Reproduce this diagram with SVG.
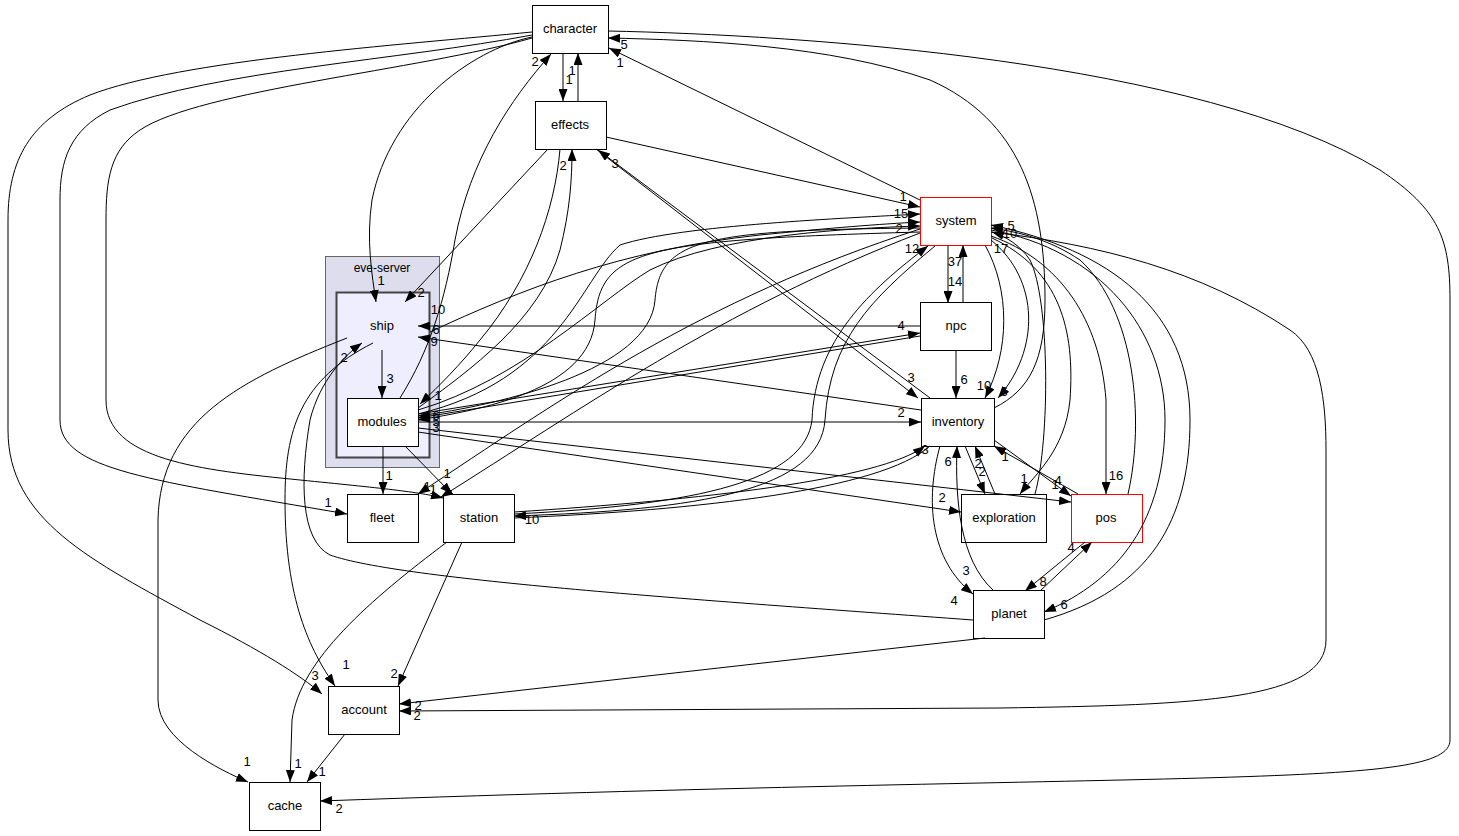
<svg xmlns="http://www.w3.org/2000/svg" width="1459" height="836" viewBox="0 0 1459 836">
<defs>
<marker id="a" viewBox="0 0 12 9" refX="12" refY="4.5" markerWidth="12" markerHeight="9" orient="auto" markerUnits="userSpaceOnUse"><path d="M0,0 L12,4.5 L0,9 z" fill="#000"/></marker>
<style>
.n{fill:#fff;stroke:#000;stroke-width:1}
.r{fill:#fff;stroke:#f00;stroke-width:1}
.t{font-family:"Liberation Sans",Arial,sans-serif;font-size:13px;text-anchor:middle;fill:#000}
.l{font-family:"Liberation Sans",Arial,sans-serif;font-size:13px;text-anchor:middle;fill:#000}
#edges path{fill:none;stroke:#000;stroke-width:1;marker-end:url(#a)}
#edges path.x{marker-end:none}
</style>
</defs>
<rect width="1459" height="836" fill="#fff"/>
<g id="eve-server"><rect x="325.5" y="256.5" width="114" height="211" fill="#ddddee" stroke="#666"/><text class="t" x="382" y="272" style="font-size:12px">eve-server</text></g>
<g id="ship"><rect x="336.5" y="292.5" width="93" height="165" fill="#eeeeff" stroke="#444" stroke-width="2"/><text class="t" x="382" y="330">ship</text></g>
<g id="modules"><rect class="n" x="347.5" y="398.5" width="71" height="48"/><text class="t" x="382" y="426">modules</text></g>
<g id="character"><rect class="n" x="532.5" y="5.5" width="76" height="48"/><text class="t" x="570" y="33">character</text></g>
<g id="effects"><rect class="n" x="535.5" y="101.5" width="71" height="48"/><text class="t" x="570" y="129">effects</text></g>
<g id="system"><rect class="r" x="920.5" y="197.5" width="71" height="48"/><text class="t" x="956" y="225">system</text></g>
<g id="npc"><rect class="n" x="920.5" y="302.5" width="71" height="48"/><text class="t" x="956" y="330">npc</text></g>
<g id="inventory"><rect class="n" x="921.5" y="398.5" width="73" height="48"/><text class="t" x="958" y="426">inventory</text></g>
<g id="exploration"><rect class="n" x="961.5" y="494.5" width="85" height="48"/><text class="t" x="1004" y="522">exploration</text></g>
<g id="pos"><rect class="r" x="1071.5" y="494.5" width="71" height="48"/><text class="t" x="1106" y="522">pos</text></g>
<g id="planet"><rect class="n" x="973.5" y="590.5" width="71" height="48"/><text class="t" x="1009" y="618">planet</text></g>
<g id="fleet"><rect class="n" x="347.5" y="494.5" width="71" height="48"/><text class="t" x="382" y="522">fleet</text></g>
<g id="station"><rect class="n" x="443.5" y="494.5" width="71" height="48"/><text class="t" x="479" y="522">station</text></g>
<g id="account"><rect class="n" x="328.5" y="686.5" width="71" height="48"/><text class="t" x="364" y="714">account</text></g>
<g id="cache"><rect class="n" x="249.5" y="782.5" width="71" height="48"/><text class="t" x="285" y="810">cache</text></g>
<g id="edges">
<path d="M563,53 V101"/>
<path d="M578,101 V53"/>
<path d="M532,37 C470,50 390,110 372,200 C366,240 372,275 376,302"/>
<path d="M532,35 C400,60 220,70 110,110 C70,130 60,160 60,200 L60,420 C60,470 150,480 347,514"/>
<path d="M532,38 C420,70 200,90 140,130 C110,150 106,180 106,220 L106,400 C106,460 200,470 300,480 C380,488 420,492 443,498"/>
<path d="M532,32 C400,45 180,60 90,95 C30,120 8,160 8,220 L8,430 C8,520 90,560 200,620 C260,650 300,675 322,694"/>
<path d="M608,31 C800,35 1200,60 1380,170 C1440,210 1450,240 1450,300 L1450,740 C1450,790 1200,770 320,801"/>
<path d="M606,137 L920,207"/>
<path d="M548,149 L405,302"/>
<path d="M596,149 L918,398"/>
<path d="M930,398 L598,150"/>
<path d="M418,408 C470,370 540,320 560,250 C570,210 572,180 572,149"/>
<path d="M560,149 C555,210 530,280 480,340 C460,365 440,385 420,404"/>
<path d="M400,398 C430,350 445,300 455,240 C470,160 510,100 551,54"/>
<path d="M920,200 L609,48"/>
<path d="M994,408 C1030,390 1045,360 1045,300 C1045,200 1020,120 930,80 C830,45 700,40 608,38"/>
<path d="M1035,494 C1050,440 1050,300 1030,260 C1020,245 1005,236 992,232"/>
<path d="M992,238 C1060,270 1075,330 1070,400 C1065,450 1035,475 1020,494"/>
<path d="M430,332 C520,290 620,250 760,235 C830,228 880,224 920,222"/>
<path d="M418,410 C520,380 600,300 650,270 C720,235 850,228 920,226"/>
<path d="M418,414 C560,380 580,280 620,245 C680,225 850,218 920,214"/>
<path d="M920,228 C700,230 660,240 655,300 C650,370 500,405 418,416"/>
<path d="M920,232 C640,240 600,250 595,320 C590,390 480,410 418,420"/>
<path d="M514,514 C700,505 805,480 812,420 C815,340 870,290 928,246"/>
<path d="M935,246 C870,300 830,340 825,420 C820,490 700,510 514,516"/>
<path d="M920,229 C700,300 560,400 418,494"/>
<path d="M920,233 C720,310 580,410 441,497"/>
<path class="x" d="M930,446 C880,490 700,510 514,518"/>
<path d="M514,512 C700,500 880,480 925,446"/>
<path d="M920,326 L418,326"/>
<path d="M418,414 L920,333"/>
<path d="M920,336 L418,418"/>
<path d="M921,410 L418,337"/>
<path d="M418,422 L921,422"/>
<path d="M418,428 L1071,502"/>
<path d="M418,432 L961,512"/>
<path d="M383,446 V494"/>
<path d="M405,446 L452,494"/>
<path d="M382,350 V398"/>
<path d="M347,338 C240,380 160,420 158,520 L158,700 C158,740 220,770 248,782"/>
<path d="M373,343 C300,380 285,430 285,500 C285,600 310,650 335,686"/>
<path d="M973,620 C700,600 400,580 330,555 C300,540 300,480 310,420 C320,380 345,355 362,343"/>
<path d="M462,542 L398,686"/>
<path d="M447,542 C370,600 300,660 292,720 L290,782"/>
<path d="M345,734 L307,782"/>
<path d="M985,638 L399,704"/>
<path d="M991,232 C1100,245 1200,270 1290,330 C1320,350 1326,400 1326,450 L1326,640 C1326,700 1200,705 1000,708 L399,711"/>
<path d="M991,236 C1060,260 1100,320 1106,400 L1106,494"/>
<path d="M1128,494 C1145,420 1135,310 1080,260 C1050,240 1020,232 991,228"/>
<path d="M991,230 C1100,250 1165,330 1165,420 C1165,520 1120,580 1044,612"/>
<path d="M1044,620 C1150,590 1190,520 1190,420 C1190,310 1110,250 991,225"/>
<path d="M985,245 C1010,290 1010,350 985,398"/>
<path d="M991,240 C1040,280 1040,350 998,398"/>
<path d="M1078,494 L994,446"/>
<path d="M994,440 L1071,496"/>
<path d="M965,446 L985,494"/>
<path d="M995,494 L975,446"/>
<path d="M940,446 C925,500 930,560 973,594"/>
<path d="M993,590 C960,560 955,500 957,446"/>
<path d="M1085,542 L1025,591"/>
<path d="M1040,591 L1092,542"/>
<path d="M948,245 V303"/>
<path d="M963,303 V245"/>
<path d="M956,350 V398"/>
</g>
<g id="labels">
<text class="l" x="624" y="49">5</text>
<text class="l" x="620" y="67">1</text>
<text class="l" x="535" y="66">2</text>
<text class="l" x="572" y="75">1</text>
<text class="l" x="569" y="84">1</text>
<text class="l" x="563" y="170">2</text>
<text class="l" x="615" y="168">3</text>
<text class="l" x="903" y="201">1</text>
<text class="l" x="901" y="218">15</text>
<text class="l" x="899" y="233">2</text>
<text class="l" x="912" y="253">12</text>
<text class="l" x="381" y="285">1</text>
<text class="l" x="421" y="297">2</text>
<text class="l" x="438" y="314">10</text>
<text class="l" x="436" y="334">6</text>
<text class="l" x="434" y="346">9</text>
<text class="l" x="344" y="362">2</text>
<text class="l" x="390" y="383">3</text>
<text class="l" x="438" y="400">1</text>
<text class="l" x="436" y="420">6</text>
<text class="l" x="436" y="426">5</text>
<text class="l" x="436" y="432">3</text>
<text class="l" x="955" y="266">37</text>
<text class="l" x="955" y="286">14</text>
<text class="l" x="901" y="330">4</text>
<text class="l" x="964" y="384">6</text>
<text class="l" x="984" y="390">10</text>
<text class="l" x="1004" y="396">6</text>
<text class="l" x="911" y="382">3</text>
<text class="l" x="901" y="417">2</text>
<text class="l" x="925" y="454">3</text>
<text class="l" x="948" y="466">6</text>
<text class="l" x="978" y="468">2</text>
<text class="l" x="982" y="476">2</text>
<text class="l" x="1005" y="461">1</text>
<text class="l" x="1024" y="483">1</text>
<text class="l" x="1058" y="485">4</text>
<text class="l" x="1055" y="489">1</text>
<text class="l" x="1116" y="480">16</text>
<text class="l" x="942" y="502">2</text>
<text class="l" x="1071" y="552">4</text>
<text class="l" x="1043" y="586">8</text>
<text class="l" x="966" y="575">3</text>
<text class="l" x="954" y="605">4</text>
<text class="l" x="1064" y="609">6</text>
<text class="l" x="389" y="480">1</text>
<text class="l" x="447" y="478">1</text>
<text class="l" x="328" y="507">1</text>
<text class="l" x="427" y="491">1</text>
<text class="l" x="433" y="494">1</text>
<text class="l" x="532" y="524">10</text>
<text class="l" x="315" y="680">3</text>
<text class="l" x="346" y="669">1</text>
<text class="l" x="394" y="678">2</text>
<text class="l" x="418" y="710">2</text>
<text class="l" x="417" y="720">2</text>
<text class="l" x="247" y="766">1</text>
<text class="l" x="298" y="768">1</text>
<text class="l" x="322" y="776">1</text>
<text class="l" x="339" y="813">2</text>
<text class="l" x="1001" y="253">17</text>
<text class="l" x="1011" y="230">5</text>
<text class="l" x="1010" y="238">10</text>
</g>
</svg>
